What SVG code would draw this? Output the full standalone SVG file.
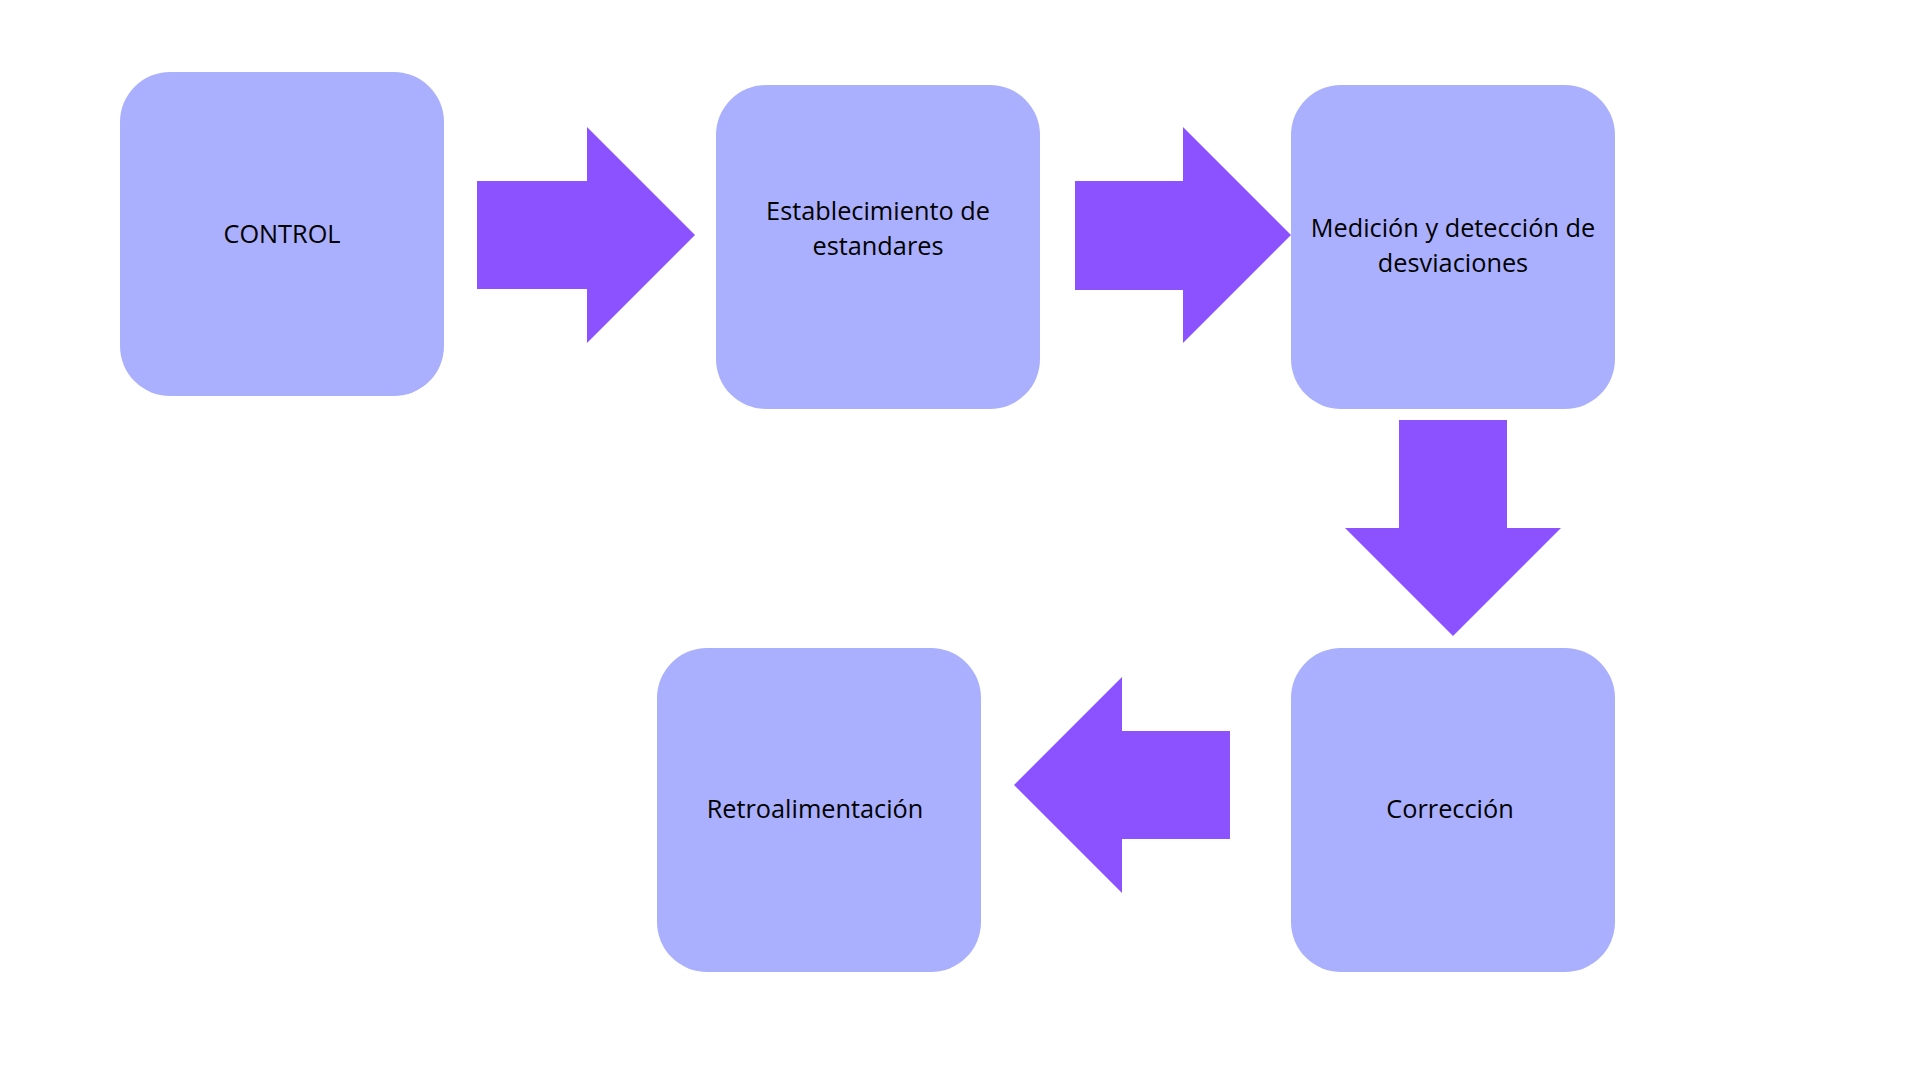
<svg xmlns="http://www.w3.org/2000/svg" width="1920" height="1080" viewBox="0 0 1920 1080">
<style>
.box{fill:#AAB0FE}
.arrow{fill:#8C52FF}
.lbl{font-family:"Open Sans","Noto Sans",sans-serif;font-size:25.3px;fill:#000;text-anchor:middle}
</style>
<rect width="1920" height="1080" fill="#FFFFFF"/>
<g id="connectors">
<polygon class="arrow" points="477,181 587,181 587,127 695,235 587,343 587,289 477,289"/>
<polygon class="arrow" points="1075,181 1183,181 1183,127 1291,235 1183,343 1183,290 1075,290"/>
<polygon class="arrow" points="1399,420 1507,420 1507,528 1561,528 1453,636 1345,528 1399,528"/>
<polygon class="arrow" points="1230,731 1122,731 1122,677 1014,785 1122,893 1122,839 1230,839"/>
</g>
<g id="node-control">
<rect class="box" x="120" y="72" width="324" height="324" rx="50" ry="50"/>
<text class="lbl" x="282" y="243">CONTROL</text>
</g>
<g id="node-establecimiento">
<rect class="box" x="716" y="85" width="324" height="324" rx="50" ry="50"/>
<text class="lbl" x="878" y="220">Establecimiento de</text>
<text class="lbl" x="878" y="255">estandares</text>
</g>
<g id="node-medicion">
<rect class="box" x="1291" y="85" width="324" height="324" rx="50" ry="50"/>
<text class="lbl" x="1453" y="237">Medición y detección de</text>
<text class="lbl" x="1453" y="272">desviaciones</text>
</g>
<g id="node-correccion">
<rect class="box" x="1291" y="648" width="324" height="324" rx="50" ry="50"/>
<text class="lbl" x="1450" y="818">Corrección</text>
</g>
<g id="node-retroalimentacion">
<rect class="box" x="657" y="648" width="324" height="324" rx="50" ry="50"/>
<text class="lbl" x="815" y="818">Retroalimentación</text>
</g>
</svg>
